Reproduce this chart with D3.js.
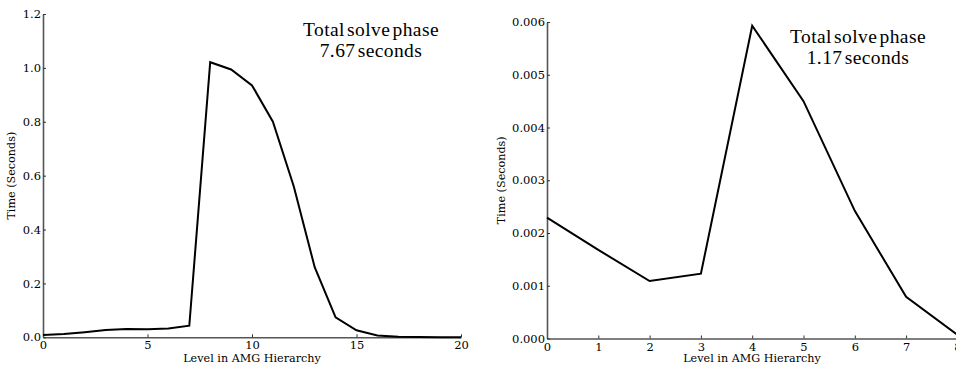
<!DOCTYPE html>
<html>
<head>
<meta charset="utf-8">
<script src="https://cdn.jsdelivr.net/npm/d3@7"></script>
<style>
  body { margin: 0; background: #fff; }
  svg { display: block; }
  .tick text { font-family: "DejaVu Serif", serif; font-size: 11.5px; fill: #000; }
</style>
</head>
<body>
<div id="chart"></div>
<script>
// left panel: time per level, 20-level hierarchy
leftLevels = d3.range(0, 21);
leftTimes = [0.0085, 0.012, 0.019, 0.027, 0.031, 0.030, 0.033, 0.043, 1.021, 0.994,
             0.935, 0.80, 0.56, 0.26, 0.074, 0.026, 0.007, 0.002, 0.001, 0.0005, 0.0003];
leftXTicks = [0, 5, 10, 15, 20];
leftYTicks = [0.0, 0.2, 0.4, 0.6, 0.8, 1.0, 1.2];
leftNote = ["Total solve phase", "7.67 seconds"];

// right panel: time per level, 8-level hierarchy
rightLevels = d3.range(0, 9);
rightTimes = [0.00229, 0.00168, 0.00109, 0.00123, 0.00593, 0.0045, 0.00242, 0.00079, 0.00007];
rightXTicks = [0, 1, 2, 3, 4, 5, 6, 7, 8];
rightYTicks = [0.000, 0.001, 0.002, 0.003, 0.004, 0.005, 0.006];
rightNote = ["Total solve phase", "1.17 seconds"];

let svg = d3.select('#chart')
    .append('svg')
    .attr('width', 956)
    .attr('height', 368);

function drawPanel(cfg) {
    let x = d3.scaleLinear()
        .domain(cfg.xDomain)
        .range(cfg.xRange);
    let y = d3.scaleLinear()
        .domain(cfg.yDomain)
        .range(cfg.yRange);

    let g = svg.append('g');

    // x axis, ticks pointing inward
    let xAxis = g.append('g')
        .attr('transform', `translate(0,${cfg.yRange[0]})`)
        .call(d3.axisBottom(x).tickValues(cfg.xTicks).tickFormat(d3.format('d')).tickSizeInner(-3).tickSizeOuter(0).tickPadding(4));
    xAxis.select('.domain').attr('stroke', '#555').attr('stroke-width', 1.6);
    xAxis.selectAll('.tick line').attr('stroke', '#333');

    // y axis
    let yAxis = g.append('g')
        .attr('transform', `translate(${cfg.xRange[0]},0)`)
        .call(d3.axisLeft(y).tickValues(cfg.yTicks).tickFormat(d3.format(cfg.yFormat)).tickSizeInner(-3).tickSizeOuter(0).tickPadding(2));
    yAxis.select('.domain').attr('stroke', '#555').attr('stroke-width', 1.6);
    yAxis.selectAll('.tick line').attr('stroke', '#333');

    // the line
    let line = d3.line()
        .x((d, i) => x(cfg.levels[i]))
        .y(d => y(d));
    g.append('path')
        .datum(cfg.times)
        .attr('fill', 'none')
        .attr('stroke', '#000')
        .attr('stroke-width', 2)
        .attr('d', line);

    // axis labels
    g.append('text')
        .attr('x', cfg.xLabelX)
        .attr('y', 362)
        .attr('text-anchor', 'middle')
        .style('font-family', '"DejaVu Serif", serif')
        .style('font-size', '11.2px')
        .text('Level in AMG Hierarchy');

    g.append('text')
        .attr('transform', `translate(${cfg.yLabelX},${(cfg.yRange[0] + cfg.yRange[1]) / 2}) rotate(-90)`)
        .attr('text-anchor', 'middle')
        .style('font-family', '"DejaVu Serif", serif')
        .style('font-size', '11.2px')
        .text('Time (Seconds)');

    // annotation
    cfg.note.forEach(function(t, i) {
        g.append('text')
            .attr('x', cfg.noteX)
            .attr('y', cfg.noteY + i * 21)
            .attr('text-anchor', 'middle')
            .style('font-family', '"Liberation Serif", serif')
            .style('font-size', '19.5px')
            .style('letter-spacing', '0.4px')
            .style('word-spacing', '-3px')
            .text(t);
    });
}

drawPanel({
    levels: leftLevels, times: leftTimes,
    xDomain: [0, 20], yDomain: [0, 1.2],
    xRange: [43, 461], yRange: [337.3, 14],
    xTicks: leftXTicks, yTicks: leftYTicks, yFormat: '.1f',
    xLabelX: 252, yLabelX: 15,
    note: leftNote, noteX: 371, noteY: 36
});

drawPanel({
    levels: rightLevels, times: rightTimes,
    xDomain: [0, 8], yDomain: [0, 0.006],
    xRange: [547, 957.4], yRange: [338.5, 22],
    xTicks: rightXTicks, yTicks: rightYTicks, yFormat: '.3f',
    xLabelX: 752, yLabelX: 505,
    note: rightNote, noteX: 858, noteY: 43
});
</script>
</body>
</html>
